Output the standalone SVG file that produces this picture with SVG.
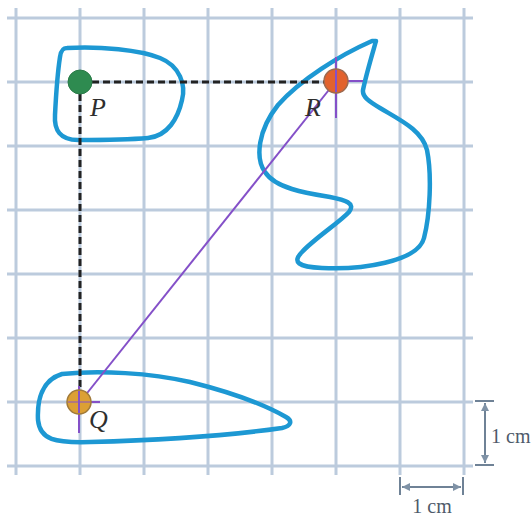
<svg xmlns="http://www.w3.org/2000/svg" width="532" height="517" viewBox="0 0 532 517">
<style>
.grid line{stroke:#bccbdd;stroke-width:3}
.blob{fill:none;stroke:#1d98d3;stroke-width:4.5;stroke-linejoin:round}
.dash{stroke:#222;stroke-width:3;stroke-dasharray:7 4;fill:none}
.pur{stroke:#8450c8;stroke-width:2;fill:none}
.lbl{font-family:"Liberation Serif",serif;font-style:italic;font-size:26px;fill:#2e2e2e}
.dim{stroke:#6f8296;stroke-width:2;fill:none}
.dimt{font-family:"Liberation Serif",serif;font-size:20px;fill:#4e5a6a}
</style>
<defs>
<marker id="ah" viewBox="0 0 10 10" refX="10" refY="5" markerWidth="4" markerHeight="4" orient="auto-start-reverse">
<path d="M0,0 L10,5 L0,10 z" fill="#7f92a6"/>
</marker>
</defs>
<rect width="532" height="517" fill="#fff"/>
<g class="grid">
<line x1="16" y1="8" x2="16" y2="475"/>
<line x1="80" y1="8" x2="80" y2="475"/>
<line x1="144" y1="8" x2="144" y2="475"/>
<line x1="208" y1="8" x2="208" y2="475"/>
<line x1="272" y1="8" x2="272" y2="475"/>
<line x1="336" y1="8" x2="336" y2="475"/>
<line x1="400" y1="8" x2="400" y2="475"/>
<line x1="464" y1="8" x2="464" y2="475"/>
<line x1="7" y1="18" x2="473" y2="18"/>
<line x1="7" y1="82" x2="473" y2="82"/>
<line x1="7" y1="146" x2="473" y2="146"/>
<line x1="7" y1="210" x2="473" y2="210"/>
<line x1="7" y1="274" x2="473" y2="274"/>
<line x1="7" y1="338" x2="473" y2="338"/>
<line x1="7" y1="402" x2="473" y2="402"/>
<line x1="7" y1="466" x2="473" y2="466"/>
</g>
<g id="shapeP"><path class="blob" d="M67 48 C100 46,140 50,160 58 C180 66,186 85,182 100 C178 118,168 136,148 138 C125 140,100 140,78 140 C60 140,54 130,55 115 C56 95,58 70,60 57 C61 50,63 48,67 48 Z"/></g>
<g id="shapeR"><path class="blob" d="M376 41 C372 55,366 75,363 90 C362 97,370 102,380 108 C400 120,422 130,427 150 C432 175,430 215,424 238 C418 262,360 270,322 268 C298 267,292 262,302 252 C315 238,340 222,349 212 C356 203,345 200,330 197 C305 193,275 188,265 172 C255 158,258 130,278 105 C300 80,340 55,372 41 Z"/></g>
<g id="shapeQ"><path class="blob" d="M62 374 C100 370,150 373,190 382 C230 392,265 405,286 417 C293 421,291 426,282 428 C240 434,170 440,90 442 C55 443,40 440,38 420 C37 400,42 380,62 374 Z"/></g>
<g id="connectors">
<line class="dash" x1="92" y1="82" x2="324" y2="82"/>
<line class="dash" x1="80" y1="94" x2="80" y2="390"/>
<line class="pur" x1="80" y1="402" x2="336" y2="81"/>
<line class="pur" x1="336" y1="57" x2="336" y2="118"/>
<line class="pur" x1="336" y1="81" x2="363" y2="81"/>
<line class="pur" x1="79" y1="386" x2="79" y2="433"/>
<line class="pur" x1="79" y1="402" x2="100" y2="402"/>
</g>
<g id="P"><circle cx="80" cy="82" r="12" fill="#2e8b50" stroke="#2a7a48" stroke-width="1"/><text class="lbl" x="90" y="116">P</text></g>
<g id="R"><circle cx="336" cy="81" r="12" fill="#e2622d" stroke="#9c6a50" stroke-width="1.5"/><line class="pur" x1="336" y1="70" x2="336" y2="92"/><text class="lbl" x="305" y="116">R</text></g>
<g id="Q"><circle cx="79" cy="402" r="12" fill="#dca034" stroke="#a07a3a" stroke-width="1.5"/><line class="pur" x1="79" y1="391" x2="79" y2="413"/><line class="pur" x1="68" y1="402" x2="90" y2="402" stroke-opacity="0.5"/><text class="lbl" x="89" y="428">Q</text></g>
<g id="dimV">
<line class="dim" x1="475" y1="401" x2="494" y2="401"/>
<line class="dim" x1="475" y1="465" x2="494" y2="465"/>
<line class="dim" x1="485" y1="403" x2="485" y2="463" marker-start="url(#ah)" marker-end="url(#ah)"/>
<text class="dimt" x="491" y="443">1 cm</text>
</g>
<g id="dimH">
<line class="dim" x1="400" y1="477" x2="400" y2="495"/>
<line class="dim" x1="463" y1="477" x2="463" y2="495"/>
<line class="dim" x1="402" y1="487" x2="461" y2="487" marker-start="url(#ah)" marker-end="url(#ah)"/>
<text class="dimt" x="432" y="513" text-anchor="middle">1 cm</text>
</g>
</svg>
